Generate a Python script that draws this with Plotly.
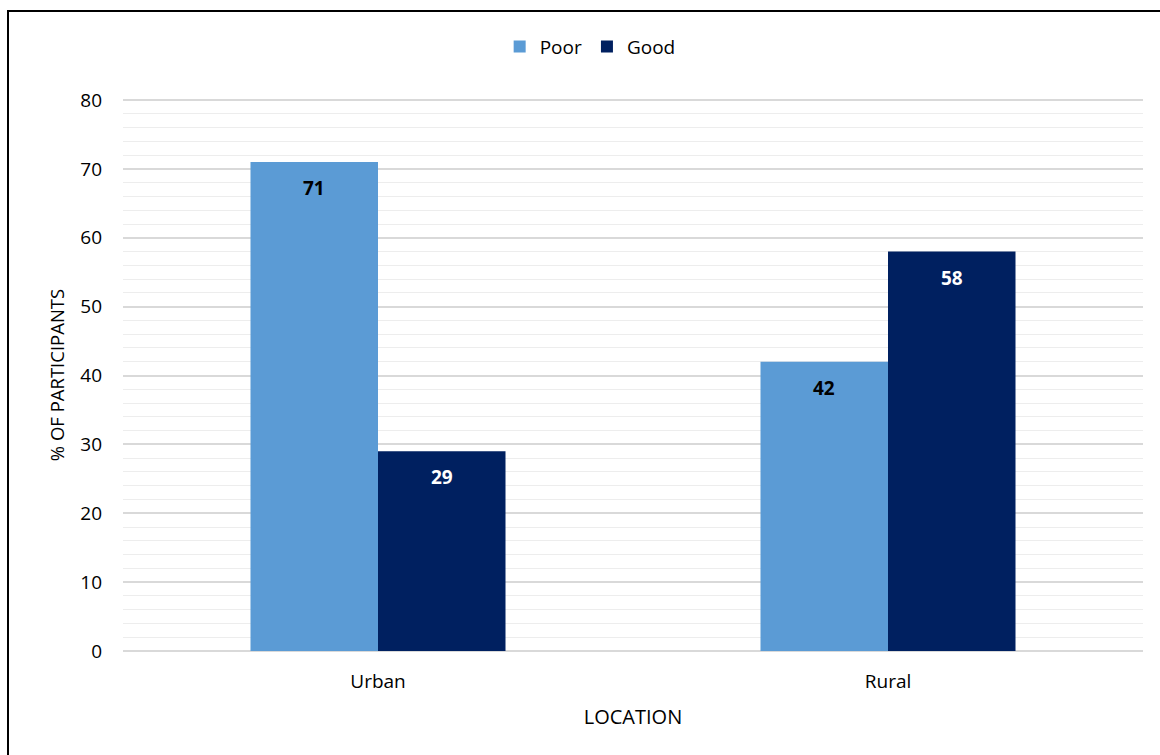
import plotly.graph_objects as go

locations = ["Urban", "Rural"]
poor = [71, 42]
good = [29, 58]
series_names = ["Poor", "Good"]
colors = ["#5B9BD5", "#002060"]
label_colors = ["#000000", "#FFFFFF"]

FONT = "Open Sans"

fig = go.Figure()
for name, vals, col in zip(series_names, [poor, good], colors):
    fig.add_trace(go.Bar(x=locations, y=vals, name=name, marker=dict(color=col, line=dict(width=0))))

annotations = []
for i, (vals, lc) in enumerate(zip([poor, good], label_colors)):
    shift = -64 if i == 0 else 64
    for loc, v in zip(locations, vals):
        annotations.append(dict(x=loc, y=v, xref="x", yref="y", text=f"<b>{v}</b>", showarrow=False,
                                xshift=shift, yshift=-26, yanchor="middle",
                                font=dict(family=FONT, size=19, color=lc)))

fig.update_layout(
    width=1160, height=755,
    margin=dict(l=123, r=17, t=99, b=104),
    paper_bgcolor="white", plot_bgcolor="white",
    barmode="group", bargap=0.5, bargroupgap=0,
    font=dict(family=FONT, size=19, color="#000000"),
    legend=dict(orientation="h", x=0.458, xanchor="center", y=1.095, yanchor="middle",
                font=dict(family=FONT, size=19), itemwidth=30, traceorder="normal"),
    annotations=annotations,
    xaxis=dict(title=dict(text="LOCATION", font=dict(size=20), standoff=16),
               showgrid=False, showline=False, ticks="", ticklabelstandoff=17,
               tickfont=dict(size=19)),
    yaxis=dict(title=dict(text="% OF PARTICIPANTS", font=dict(size=18.5), standoff=10),
               range=[0, 80.15], dtick=10, showgrid=True, gridcolor="#D9D9D9", gridwidth=1.5,
               minor=dict(dtick=2, showgrid=True, gridcolor="#EDEDED", gridwidth=1),
               zeroline=True, zerolinecolor="#D9D9D9", zerolinewidth=2,
               ticks="", ticklabelstandoff=20, tickfont=dict(size=19)),
    shapes=[dict(type="rect", xref="paper", yref="paper",
                 x0=(8 - 123) / 1020, x1=(1170 - 123) / 1020,
                 y0=(651 - 765) / 552, y1=(651 - 11) / 552,
                 line=dict(color="#000000", width=2), fillcolor="rgba(0,0,0,0)", layer="above")],
)

fig.write_html("out.html", config={"displayModeBar": False},
               post_script="document.body.style.margin='0';")
